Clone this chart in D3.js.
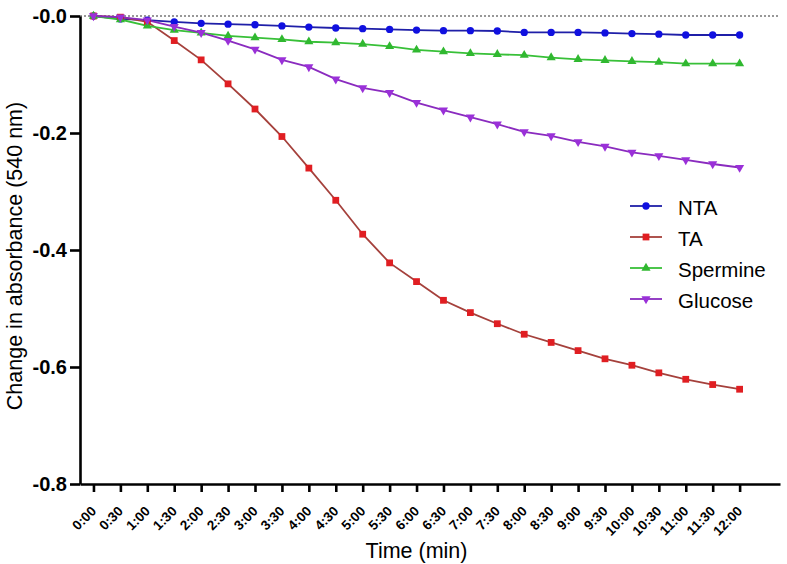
<!DOCTYPE html>
<html>
<head>
<meta charset="utf-8">
<script src="https://cdn.jsdelivr.net/npm/d3@7"></script>
<style>
  html, body { margin: 0; padding: 0; background: #fff; }
  svg { display: block; font-family: "Liberation Sans", Arial, sans-serif; }
</style>
</head>
<body>
<svg id="chart" width="787" height="564"></svg>
<script>
const times = ["0:00","0:30","1:00","1:30","2:00","2:30","3:00","3:30","4:00","4:30","5:00","5:30","6:00","6:30","7:00","7:30","8:00","8:30","9:00","9:30","10:00","10:30","11:00","11:30","12:00"];
const yTicks = [-0.8, -0.6, -0.4, -0.2, 0];
const yTickLabels = ["-0.8", "-0.6", "-0.4", "-0.2", "-0.0"];

const seriesNames = ["NTA", "TA", "Spermine", "Glucose"];
const ntaValues = [0, -0.005, -0.007, -0.010, -0.0125, -0.014, -0.015, -0.017, -0.019, -0.0205, -0.0217, -0.023, -0.024, -0.025, -0.025, -0.0256, -0.028, -0.028, -0.028, -0.029, -0.030, -0.031, -0.0325, -0.0325, -0.0325];
const taValues = [0, -0.002, -0.010, -0.042, -0.075, -0.116, -0.159, -0.206, -0.260, -0.315, -0.373, -0.422, -0.454, -0.486, -0.507, -0.526, -0.544, -0.558, -0.572, -0.586, -0.597, -0.610, -0.621, -0.630, -0.638];
const spermineValues = [0, -0.006, -0.017, -0.024, -0.029, -0.034, -0.037, -0.040, -0.044, -0.0456, -0.048, -0.052, -0.058, -0.061, -0.064, -0.0655, -0.067, -0.071, -0.074, -0.0757, -0.0775, -0.079, -0.0815, -0.0815, -0.0815];
const glucoseValues = [0, -0.002, -0.007, -0.018, -0.0285, -0.042, -0.057, -0.075, -0.087, -0.108, -0.123, -0.131, -0.148, -0.161, -0.173, -0.185, -0.198, -0.205, -0.215, -0.223, -0.233, -0.239, -0.246, -0.253, -0.259];

const series = [
  { name: seriesNames[0], values: ntaValues, line: "#1f1fa8", fill: "#1010e0", marker: "circle" },
  { name: seriesNames[1], values: taValues, line: "#a5413c", fill: "#e01e22", marker: "square" },
  { name: seriesNames[2], values: spermineValues, line: "#38c038", fill: "#30b830", marker: "triangleUp" },
  { name: seriesNames[3], values: glucoseValues, line: "#8a2bbf", fill: "#9a30d8", marker: "triangleDown" }
];

const svg = d3.select("#chart");
const x = d3.scaleLinear().domain([-0.5, 25.5]).range([80, 780]);
const y = d3.scaleLinear().domain([-0.8, 0]).range([484, 16]);

// zero dotted line
svg.append("line")
  .attr("x1", x(-0.5)).attr("x2", x(25.5))
  .attr("y1", y(0)).attr("y2", y(0))
  .attr("stroke", "#333").attr("stroke-width", 1.2)
  .attr("stroke-dasharray", "2,2");

// lines
const lineGen = d3.line().x((d, i) => x(i)).y(d => y(d));
const symbolTypes = {
  circle: d3.symbolCircle,
  square: d3.symbolSquare,
  triangleUp: d3.symbolTriangle,
  triangleDown: d3.symbolTriangle
};
const symbolSizes = { circle: 42, square: 46, triangleUp: 36, triangleDown: 36 };

function markerPath(s) {
  return d3.symbol().type(symbolTypes[s.marker]).size(symbolSizes[s.marker])();
}

series.forEach(s => {
  svg.append("path")
    .datum(s.values)
    .attr("fill", "none")
    .attr("stroke", s.line)
    .attr("stroke-width", 1.8)
    .attr("d", lineGen);
});
series.forEach(s => {
  svg.append("g").selectAll("path")
    .data(s.values)
    .join("path")
    .attr("d", markerPath(s))
    .attr("fill", s.fill)
    .attr("transform", (d, i) => `translate(${x(i)},${y(d)})${s.marker === "triangleDown" ? " rotate(180)" : ""}`);
});

// axes
const yAxis = d3.axisLeft(y)
  .tickValues(yTicks)
  .tickFormat((d, i) => yTickLabels[i])
  .tickSize(10).tickSizeOuter(0).tickPadding(3);
const gy = svg.append("g").attr("transform", `translate(80,0)`).call(yAxis);
gy.select(".domain").attr("stroke", "#000").attr("stroke-width", 2.6);
gy.selectAll(".tick line").attr("stroke", "#000").attr("stroke-width", 2.6);
gy.selectAll(".tick text")
  .attr("fill", "#000")
  .style("font-family", "'Liberation Sans', Arial, sans-serif")
  .style("font-size", "20px").style("font-weight", "bold");

const xAxis = d3.axisBottom(x)
  .tickValues(d3.range(times.length))
  .tickFormat(i => times[i])
  .tickSize(8).tickSizeOuter(0);
const gx = svg.append("g").attr("transform", `translate(0,484)`).call(xAxis);
gx.select(".domain").attr("stroke", "#000").attr("stroke-width", 2.6);
gx.selectAll(".tick line").attr("stroke", "#000").attr("stroke-width", 2.6);
gx.selectAll(".tick text")
  .attr("fill", "#000")
  .attr("x", 0).attr("y", 0).attr("dy", 0)
  .attr("text-anchor", "end")
  .attr("transform", "translate(3,28) rotate(-45)")
  .style("font-family", "'Liberation Sans', Arial, sans-serif")
  .style("font-size", "13.5px").style("font-weight", "bold");

// axis titles
svg.append("text")
  .attr("x", x(12)).attr("y", 558)
  .attr("text-anchor", "middle")
  .style("font-size", "21.5px")
  .text("Time (min)");

svg.append("text")
  .attr("transform", "translate(22,256) rotate(-90)")
  .attr("text-anchor", "middle")
  .style("font-size", "21.5px")
  .text("Change in absorbance (540 nm)");

// legend
const legend = svg.append("g");
series.forEach((s, i) => {
  const cy = 207 + i * 31;
  const g = legend.append("g").attr("transform", `translate(0,${cy})`);
  g.append("line").attr("x1", 630).attr("x2", 662).attr("y1", -1).attr("y2", -1)
    .attr("stroke", s.line).attr("stroke-width", 1.8);
  g.append("path").attr("d", markerPath(s)).attr("fill", s.fill)
    .attr("transform", `translate(646,-1)${s.marker === "triangleDown" ? " rotate(180)" : ""}`);
  g.append("text").attr("x", 678).attr("y", 7.5)
    .style("font-size", "20.5px")
    .text(s.name);
});
</script>
</body>
</html>
